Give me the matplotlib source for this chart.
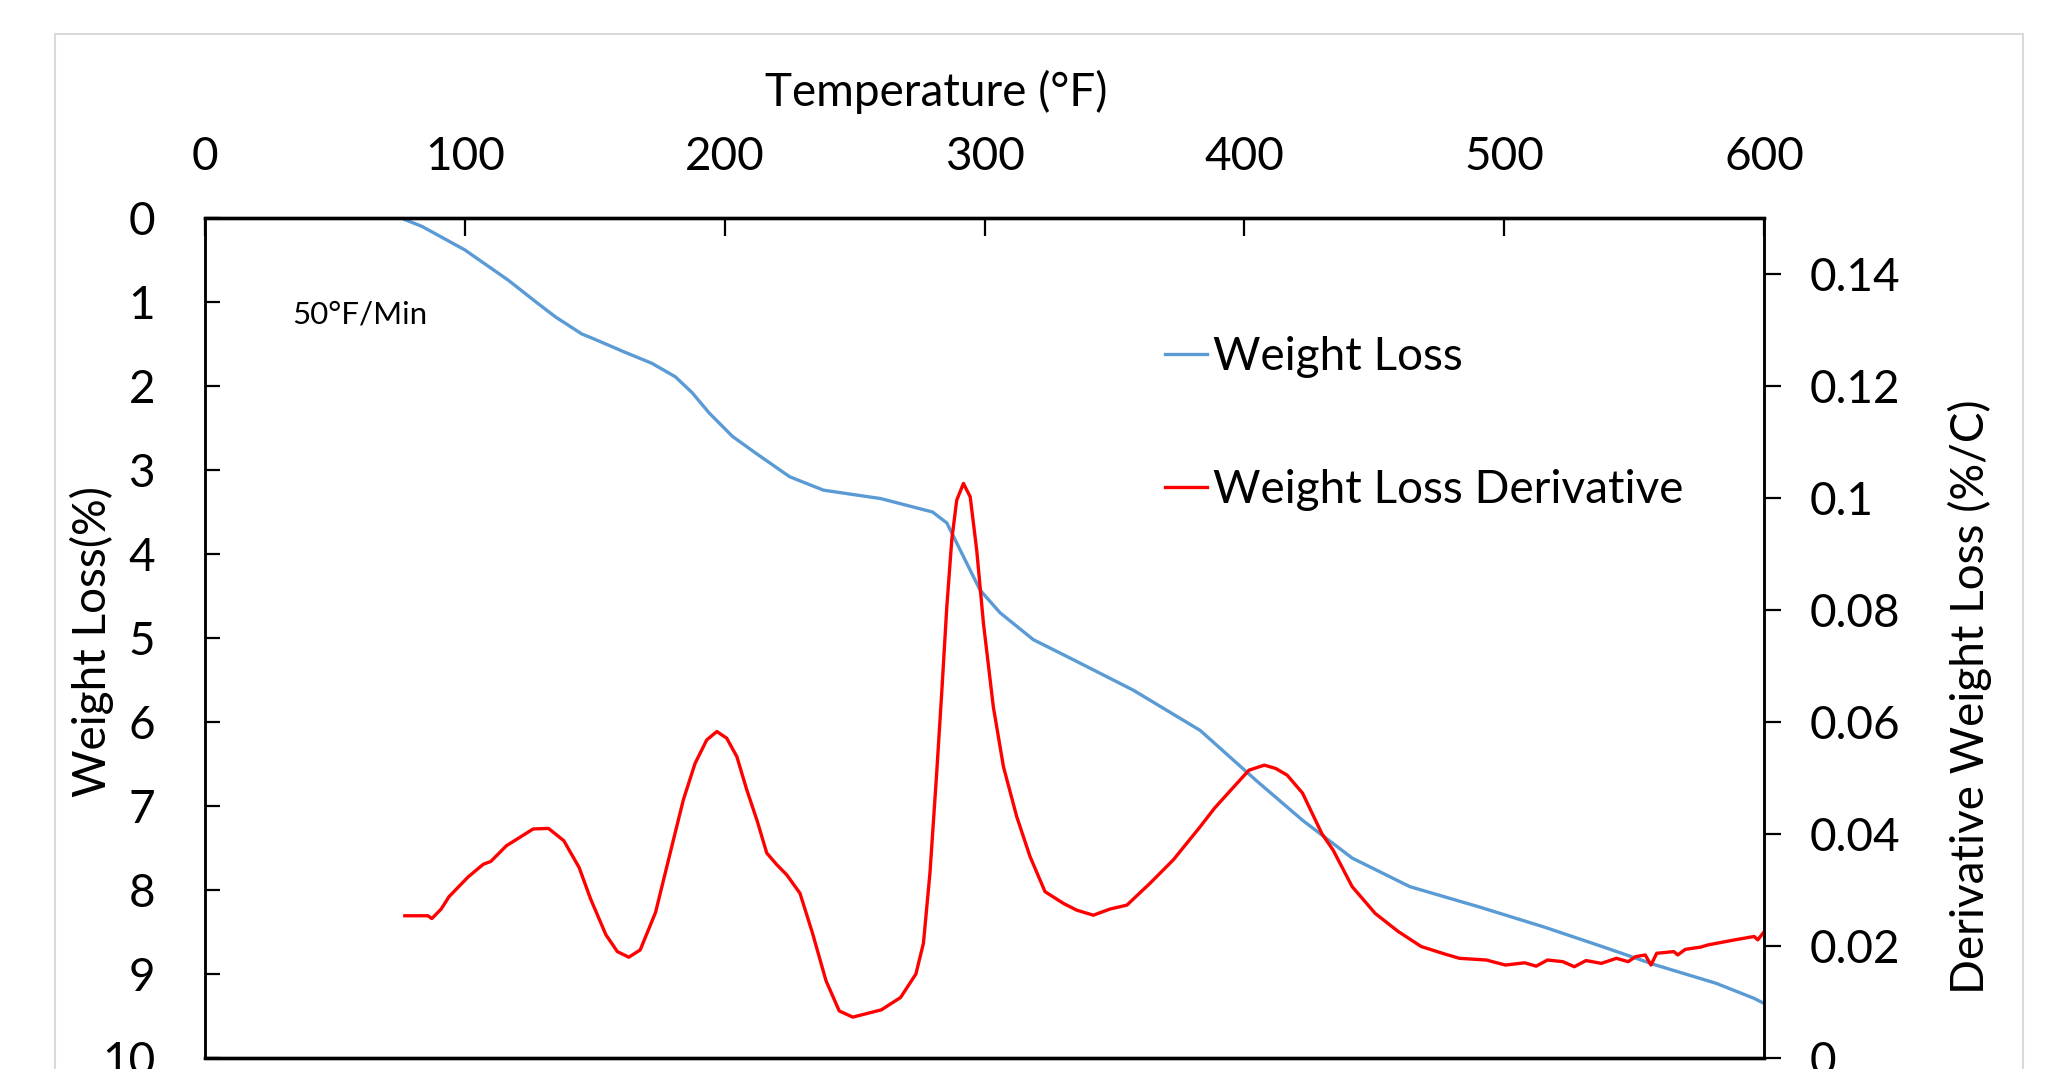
import matplotlib
matplotlib.use("Agg")
import matplotlib.pyplot as plt
from matplotlib.patches import Rectangle
from matplotlib.ticker import FuncFormatter, MultipleLocator

plt.rcParams["font.family"] = ["Lato", "DejaVu Sans"]

# weight loss curve (left axis, %)
temp_wl = [77, 83.5, 100, 116.7, 127.8, 135, 141, 145, 149.7, 155, 161, 172, 181, 187.5,
           194, 203, 212, 225, 238, 260, 280, 285.5, 290.6, 298.3, 306, 318.8, 333,
           357.2, 383, 404.7, 422.4, 441.5, 463.7, 490.2, 515.3, 537.4, 558, 581.5,
           596.2, 600]
weight_loss = [0.02, 0.1, 0.38, 0.74, 1.01, 1.18, 1.3, 1.38, 1.44, 1.51, 1.59, 1.73, 1.89,
               2.08, 2.32, 2.6, 2.8, 3.08, 3.24, 3.34, 3.5, 3.63, 3.95, 4.43, 4.7, 5.02,
               5.24, 5.62, 6.1, 6.7, 7.17, 7.62, 7.96, 8.2, 8.44, 8.67, 8.89, 9.11, 9.29,
               9.35]

# derivative curve (right axis, %/C)
temp_dr = [76.9, 85.8, 87.3, 90.9, 93.9, 101.2, 107.1, 110, 116, 126.3, 132.2, 138.1,
           144, 148.4, 154.3, 158.7, 163.1, 167.5, 173.4, 180.3, 184.1, 188.6, 193.1,
           197, 200.8, 204.7, 208.5, 212.4, 216.2, 220.1, 223.9, 229, 233.8, 239,
           244.1, 249.3, 254.4, 260.3, 267.7, 273.6, 276.5, 279, 281.6, 283.6, 285.5,
           287.4, 289.3, 291.9, 294.5, 297, 299.6, 303.4, 307.3, 312.4, 317.5, 323.3,
           330.4, 335.5, 341.9, 348.3, 354.8, 363.7, 372.7, 383, 388.5, 395.9, 401.8,
           407.7, 412.1, 416.5, 422.4, 429.8, 434.2, 441.5, 450.4, 459.2, 468.1, 476.9,
           482.8, 493.1, 500.5, 507.9, 512.3, 516.7, 522.6, 527, 531.5, 537.4, 543.2,
           547.7, 550.6, 554.3, 556.5, 558.7, 565.3, 566.8, 569.7, 575.6, 578.5, 588.8,
           596.2, 597.6, 599.8]
derivative = [0.0254, 0.0254, 0.0249, 0.0266, 0.0288, 0.0323, 0.0346, 0.0351, 0.0379,
              0.0409, 0.041, 0.0388, 0.034, 0.0284, 0.022, 0.019, 0.018, 0.0193, 0.026,
              0.039, 0.0461, 0.0526, 0.0568, 0.0583, 0.0571, 0.0538, 0.0479, 0.0425,
              0.0366, 0.0345, 0.0327, 0.0294, 0.0223, 0.0138, 0.0084, 0.0073, 0.0079,
              0.0086, 0.0108, 0.015, 0.0205, 0.033, 0.0509, 0.0657, 0.0806, 0.0925,
              0.0996, 0.1026, 0.1002, 0.0907, 0.0776, 0.0627, 0.052, 0.0431, 0.036,
              0.0297, 0.0276, 0.0264, 0.0255, 0.0266, 0.0273, 0.0312, 0.0354, 0.0413,
              0.0446, 0.0484, 0.0514, 0.0523, 0.0517, 0.0505, 0.0473, 0.0401, 0.0371,
              0.0306, 0.0258, 0.0226, 0.0199, 0.0186, 0.0178, 0.0175, 0.0166, 0.017,
              0.0164, 0.0175, 0.0172, 0.0163, 0.0174, 0.0169, 0.0178, 0.0172, 0.0181,
              0.0184, 0.0166, 0.0187, 0.019, 0.0184, 0.0194, 0.0198, 0.0202, 0.0211,
              0.0217, 0.0211, 0.0224]

BLUE = "#5B9BD5"
RED = "#FF0000"
FS = 33

fig = plt.figure(figsize=(20.52, 10.69), dpi=100)
fig.patches.append(Rectangle((55 / 2052, -0.1), (2023 - 55) / 2052, 1.068,
                             transform=fig.transFigure, fill=False,
                             edgecolor="#D9D9D9", linewidth=1.5))

ax = fig.add_axes([205 / 2052, 1 - 1058 / 1069, (1764 - 205) / 2052, 840 / 1069])
ax2 = ax.twinx()

l1, = ax.plot(temp_wl, weight_loss, color=BLUE, linewidth=2.4, label="Weight Loss")
l2, = ax2.plot(temp_dr, derivative, color=RED, linewidth=2.4, label="Weight Loss Derivative")

ax.set_xlim(0, 600)
ax.set_ylim(10, 0)
ax2.set_ylim(0, 0.15)
ax.xaxis.set_major_locator(MultipleLocator(100))
ax.yaxis.set_major_locator(MultipleLocator(1))
ax2.yaxis.set_major_locator(MultipleLocator(0.02))
ax2.yaxis.set_major_formatter(FuncFormatter(lambda v, p: f"{v:g}" if v < 0.145 else ""))

for a in (ax, ax2):
    for side, sp in a.spines.items():
        sp.set_linewidth(2.4 if side in ("top", "bottom") else 1.8)
        sp.set_color("black")

ax.tick_params(axis="x", direction="in", length=13, width=1.6, top=True, bottom=False,
               labeltop=True, labelbottom=False, labelsize=FS, pad=29)
ax.tick_params(axis="y", direction="in", length=11, width=1.6, labelsize=FS, pad=36)
ax2.tick_params(axis="y", direction="out", length=12, width=1.6, labelsize=FS, pad=21)

ax.xaxis.set_label_position("top")
ax.set_xlabel("Temperature (°F)", fontsize=FS)
ax.xaxis.set_label_coords(0.469, 1.15)
ax.xaxis.label.set_verticalalignment("center")

ax.set_ylabel("Weight Loss(%)", fontsize=FS)
ax.yaxis.set_label_coords(-0.0725, 0.496)
ax.yaxis.label.set_verticalalignment("center")

ax2.set_ylabel("Derivative Weight Loss (%/C)", fontsize=FS, rotation=90)
ax2.yaxis.set_label_coords(1.132, 0.43)
ax2.yaxis.label.set_verticalalignment("center")

ax.text(292 / 2052, 1 - 315 / 1069, "50°F/Min", fontsize=22.5, va="center", ha="left",
        transform=fig.transFigure)

fig.legend(handles=[l1, l2], loc="upper left", bbox_to_anchor=(1165 / 2052, 1 - 336 / 1069),
           bbox_transform=fig.transFigure, frameon=False, fontsize=FS, borderpad=0,
           borderaxespad=0, handlelength=0.92, handletextpad=0.13, labelspacing=1.98)

fig.savefig("out.png", dpi=100, facecolor="white")
